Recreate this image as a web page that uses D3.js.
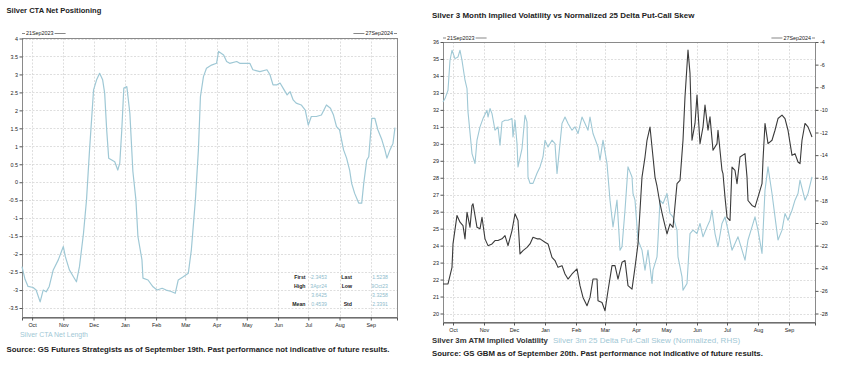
<!DOCTYPE html>
<html><head><meta charset="utf-8">
<script src="https://cdn.jsdelivr.net/npm/d3@7"></script>
<style>
body{margin:0;background:#fff}
svg{display:block}
text{font-family:"Liberation Sans",Arial,sans-serif}
</style>
</head><body>
<svg id="c" width="848" height="368"></svg>
<script>
// ---------------- DATA ----------------
const monthLabels = ["Oct","Nov","Dec","Jan","Feb","Mar","Apr","May","Jun","Jul","Aug","Sep"];
const monthStarts = ["2023-10-01","2023-11-01","2023-12-01","2024-01-01","2024-02-01","2024-03-01","2024-04-01","2024-05-01","2024-06-01","2024-07-01","2024-08-01","2024-09-01"];
const startDate = "2023-09-21";
const leftEndDate = "2024-09-27";
const rightEndDate = "2024-09-27";

const ctaDates = ["2023-09-21","2023-09-24","2023-09-27","2023-10-02","2023-10-05","2023-10-09","2023-10-12","2023-10-15","2023-10-18","2023-10-22","2023-10-27","2023-11-01","2023-11-03","2023-11-07","2023-11-11","2023-11-14","2023-11-17","2023-11-21","2023-11-24","2023-11-27","2023-12-01","2023-12-04","2023-12-07","2023-12-10","2023-12-12","2023-12-14","2023-12-16","2023-12-19","2023-12-22","2023-12-25","2023-12-27","2023-12-29","2023-12-31","2024-01-03","2024-01-06","2024-01-09","2024-01-12","2024-01-14","2024-01-18","2024-01-19","2024-01-24","2024-01-29","2024-02-02","2024-02-07","2024-02-11","2024-02-16","2024-02-20","2024-02-23","2024-02-28","2024-03-04","2024-03-07","2024-03-11","2024-03-14","2024-03-16","2024-03-19","2024-03-22","2024-03-27","2024-04-01","2024-04-03","2024-04-08","2024-04-11","2024-04-14","2024-04-21","2024-04-24","2024-04-29","2024-05-04","2024-05-07","2024-05-14","2024-05-21","2024-05-24","2024-05-27","2024-05-31","2024-06-03","2024-06-06","2024-06-10","2024-06-13","2024-06-16","2024-06-19","2024-06-24","2024-06-28","2024-07-01","2024-07-04","2024-07-09","2024-07-14","2024-07-19","2024-07-23","2024-07-26","2024-07-29","2024-08-01","2024-08-05","2024-08-08","2024-08-11","2024-08-13","2024-08-16","2024-08-20","2024-08-23","2024-08-25","2024-08-28","2024-08-30","2024-09-02","2024-09-05","2024-09-08","2024-09-12","2024-09-15","2024-09-17","2024-09-20","2024-09-23","2024-09-25"];
const ctaValues = [-2.35,-2.7,-2.9,-2.93,-3.0,-3.33,-3.0,-3.05,-2.9,-2.44,-2.16,-1.79,-2.07,-2.44,-2.63,-2.77,-2.35,-1.42,-0.49,0.9,2.57,2.85,3.03,2.85,2.48,1.46,0.67,0.62,0.57,0.34,0.53,1.46,2.62,2.66,1.92,0.3,-0.49,-1.51,-2.16,-2.67,-2.72,-2.91,-3.0,-2.95,-3.0,-3.04,-3.09,-2.72,-2.63,-2.53,-1.88,-0.49,0.9,2.38,2.94,3.17,3.26,3.31,3.64,3.54,3.36,3.31,3.36,3.31,3.31,3.31,3.13,3.08,3.13,2.99,2.71,2.71,2.76,2.62,2.43,2.52,2.29,2.2,2.15,2.01,1.59,1.83,1.83,1.87,2.15,2.06,1.87,1.55,1.46,0.9,0.67,0.34,-0.03,-0.31,-0.58,-0.58,-0.03,0.62,0.71,1.78,1.78,1.46,1.18,0.9,0.67,0.9,1.08,1.52];

const volDates = ["2023-09-21","2023-09-26","2023-09-30","2023-10-01","2023-10-05","2023-10-08","2023-10-11","2023-10-13","2023-10-15","2023-10-18","2023-10-20","2023-10-21","2023-10-25","2023-10-28","2023-10-30","2023-11-02","2023-11-05","2023-11-09","2023-11-12","2023-11-15","2023-11-19","2023-11-22","2023-11-25","2023-11-29","2023-12-02","2023-12-05","2023-12-07","2023-12-10","2023-12-14","2023-12-17","2023-12-20","2023-12-24","2023-12-27","2024-01-01","2024-01-04","2024-01-08","2024-01-11","2024-01-14","2024-01-18","2024-01-21","2024-01-24","2024-01-28","2024-02-02","2024-02-05","2024-02-08","2024-02-12","2024-02-15","2024-02-18","2024-02-22","2024-02-23","2024-02-27","2024-03-01","2024-03-04","2024-03-08","2024-03-11","2024-03-14","2024-03-18","2024-03-21","2024-03-24","2024-03-28","2024-03-31","2024-04-03","2024-04-07","2024-04-10","2024-04-12","2024-04-15","2024-04-18","2024-04-20","2024-04-22","2024-04-25","2024-04-28","2024-05-02","2024-05-05","2024-05-08","2024-05-12","2024-05-15","2024-05-17","2024-05-18","2024-05-20","2024-05-23","2024-05-25","2024-05-27","2024-05-30","2024-06-01","2024-06-04","2024-06-07","2024-06-09","2024-06-12","2024-06-14","2024-06-17","2024-06-21","2024-06-22","2024-06-26","2024-06-27","2024-06-29","2024-07-01","2024-07-04","2024-07-06","2024-07-09","2024-07-11","2024-07-14","2024-07-19","2024-07-21","2024-07-22","2024-07-26","2024-07-29","2024-08-01","2024-08-05","2024-08-06","2024-08-08","2024-08-11","2024-08-15","2024-08-18","2024-08-21","2024-08-25","2024-08-28","2024-08-31","2024-09-04","2024-09-07","2024-09-10","2024-09-12","2024-09-14","2024-09-17","2024-09-20","2024-09-24"];
const volValues = [21.74,21.74,22.72,24.1,25.78,25.38,25.18,24.4,25.97,25.08,26.37,26.47,25.08,24.99,25.67,24.4,24.0,24.1,24.3,24.3,24.4,24.59,24.0,24.89,25.88,25.48,23.51,23.71,23.9,24.1,24.49,24.4,24.4,24.2,24.1,23.31,23.12,22.72,22.82,22.33,22.03,22.33,22.63,21.64,20.95,20.46,20.95,22.03,22.03,20.75,20.65,20.16,21.34,22.82,22.82,22.03,23.02,23.12,21.64,21.44,22.72,24.1,28.04,29.22,30.21,30.99,29.22,28.04,27.5,26.47,25.67,24.69,25.28,25.08,27.65,27.84,29.42,30.21,32.77,35.53,34.15,30.21,31.2,32.87,30.01,30.99,32.28,30.8,31.59,29.62,30.01,30.8,28.43,28.24,26.86,25.67,25.48,28.63,28.43,27.65,29.22,29.42,28.04,26.66,26.37,26.27,26.86,27.65,29.03,31.2,30.01,30.21,30.8,31.49,31.69,31.49,30.8,29.32,29.42,28.93,28.83,30.21,31.2,31.0,30.4];

const skewDates = ["2023-09-21","2023-09-23","2023-09-26","2023-09-28","2023-09-30","2023-10-03","2023-10-06","2023-10-08","2023-10-10","2023-10-13","2023-10-15","2023-10-16","2023-10-20","2023-10-23","2023-10-25","2023-10-28","2023-10-31","2023-11-04","2023-11-05","2023-11-07","2023-11-09","2023-11-12","2023-11-15","2023-11-17","2023-11-19","2023-11-22","2023-11-25","2023-11-29","2023-11-30","2023-12-02","2023-12-04","2023-12-05","2023-12-09","2023-12-12","2023-12-14","2023-12-15","2023-12-17","2023-12-20","2023-12-24","2023-12-27","2023-12-30","2024-01-01","2024-01-04","2024-01-08","2024-01-11","2024-01-13","2024-01-18","2024-01-21","2024-01-24","2024-01-28","2024-01-31","2024-02-03","2024-02-07","2024-02-10","2024-02-13","2024-02-15","2024-02-18","2024-02-23","2024-02-25","2024-02-28","2024-03-03","2024-03-06","2024-03-09","2024-03-13","2024-03-14","2024-03-16","2024-03-18","2024-03-21","2024-03-24","2024-03-28","2024-03-29","2024-03-31","2024-04-03","2024-04-07","2024-04-10","2024-04-13","2024-04-17","2024-04-18","2024-04-22","2024-04-23","2024-04-25","2024-04-28","2024-05-02","2024-05-05","2024-05-08","2024-05-12","2024-05-13","2024-05-17","2024-05-18","2024-05-22","2024-05-25","2024-05-28","2024-06-01","2024-06-04","2024-06-07","2024-06-11","2024-06-14","2024-06-16","2024-06-19","2024-06-22","2024-06-26","2024-06-29","2024-07-02","2024-07-06","2024-07-09","2024-07-12","2024-07-16","2024-07-19","2024-07-22","2024-07-26","2024-07-29","2024-08-01","2024-08-05","2024-08-08","2024-08-11","2024-08-15","2024-08-18","2024-08-21","2024-08-25","2024-08-28","2024-08-31","2024-09-04","2024-09-07","2024-09-10","2024-09-12","2024-09-17","2024-09-20","2024-09-24"];
const skewValues = [-9.3,-9.0,-8.27,-5.62,-4.73,-5.47,-5.32,-4.73,-5.62,-7.38,-8.12,-10.18,-13.86,-14.74,-12.68,-11.5,-10.77,-10.03,-10.63,-9.88,-10.33,-11.8,-11.5,-13.12,-11.06,-10.92,-10.92,-10.77,-12.39,-10.92,-12.98,-15.04,-13.42,-10.47,-11.06,-15.93,-16.5,-16.5,-15.6,-15.04,-14.16,-12.68,-13.28,-12.68,-12.98,-15.63,-11.2,-10.63,-11.2,-11.8,-11.5,-12.09,-10.63,-11.2,-11.8,-10.63,-12.09,-13.28,-14.45,-12.68,-14.74,-17.98,-20.34,-17.98,-19.46,-22.4,-22.1,-18.87,-15.04,-15.93,-17.39,-17.98,-21.5,-22.4,-24.17,-22.4,-25.34,-24.17,-22.99,-21.5,-17.98,-18.28,-17.39,-19.16,-19.46,-20.63,-22.99,-24.76,-25.93,-25.34,-20.93,-20.63,-20.93,-20.04,-21.22,-20.34,-19.75,-18.87,-20.93,-22.1,-20.04,-19.46,-20.63,-22.4,-21.81,-21.22,-22.4,-23.28,-21.5,-20.34,-19.46,-20.63,-22.69,-17.1,-15.04,-17.39,-19.46,-21.5,-20.63,-19.16,-19.75,-18.87,-17.98,-17.39,-16.2,-17.98,-17.39,-15.93];

const ctaTicks = [4,3.5,3,2.5,2,1.5,1,0.5,0,-0.5,-1,-1.5,-2,-2.5,-3,-3.5];
const volTicks = [36,35,34,33,32,31,30,29,28,27,26,25,24,23,22,21,20];
const skewTicks = [-4,-6,-8,-10,-12,-14,-16,-18,-20,-22,-24,-26,-28];

const statLabelsA = ["First","High","","Mean"];
const statValuesA = ["-2.3453","3Apr24","3.6425","0.4539"];
const statLabelsB = ["Last","Low","","Std"];
const statValuesB = ["1.5238","9Oct23","-3.3258","2.3391"];

const leftTitle = "Silver CTA Net Positioning";
const rightTitle = "Silver 3 Month Implied Volatility vs Normalized 25 Delta Put-Call Skew";
const leftLegend = "Silver CTA Net Length";
const rightLegendA = "Silver 3m ATM Implied Volatility";
const rightLegendB = "Silver 3m 25 Delta Put-Call Skew (Normalized, RHS)";
const leftSource = "Source: GS Futures Strategists as of September 19th. Past performance not indicative of future results.";
const rightSource = "Source: GS GBM as of September 20th. Past performance not indicative of future results.";
const startLabel = "21Sep2023";
const endLabel = "27Sep2024";

// ---------------- STYLE ----------------
const C_LIGHT = "#9fc8d5";
const C_DARK = "#3a3a3a";
const C_TEXT = "#222";
const C_GRID = "#d6d6d6";
const C_BOX = "#8a8a8a";

const parse = d3.timeParse("%Y-%m-%d");
const svg = d3.select("#c");

function fit(t, w) {
  const n = t.node();
  const fs = parseFloat(t.attr("font-size"));
  const len = n.getComputedTextLength();
  if (len > 0) t.attr("font-size", (fs * w / len).toFixed(3));
  return t;
}
function txt(x, y, s, fs, opts = {}) {
  const t = svg.append("text").attr("x", x).attr("y", y).attr("font-size", fs)
    .attr("fill", opts.fill || C_TEXT).attr("font-weight", opts.bold ? "bold" : "normal")
    .attr("text-anchor", opts.anchor || "start").text(s);
  if (opts.width) fit(t, opts.width);
  return t;
}

function panel(cfg) {
  const {x0, x1, y0, y1, endDate} = cfg;
  const x = d3.scaleTime().domain([parse(startDate), parse(endDate)]).range([x0, x1]);
  const g = svg.append("g");
  // grid
  const yL = cfg.yLeft;
  g.append("g").selectAll("line").data(cfg.leftTicks).join("line")
    .attr("x1", x0).attr("x2", x1).attr("y1", d => Math.round(yL(d)) + 0.5).attr("y2", d => Math.round(yL(d)) + 0.5)
    .attr("stroke", C_GRID).attr("stroke-width", 0.8).attr("stroke-dasharray", "2,1.5");
  g.append("g").selectAll("line").data(monthStarts).join("line")
    .attr("x1", d => Math.round(x(parse(d))) + 0.5).attr("x2", d => Math.round(x(parse(d))) + 0.5)
    .attr("y1", y0).attr("y2", y1)
    .attr("stroke", C_GRID).attr("stroke-width", 0.8).attr("stroke-dasharray", "2,1.5");
  // box
  g.append("rect").attr("x", x0 + 0.5).attr("y", y0 + 0.5).attr("width", x1 - x0).attr("height", y1 - y0)
    .attr("fill", "none").attr("stroke", C_BOX).attr("stroke-width", 1);
  // left axis
  const ax = g.append("g").attr("transform", `translate(${x0 + 0.5},0)`)
    .call(d3.axisLeft(yL).tickValues(cfg.leftTicks).tickSize(3).tickPadding(1.5).tickFormat(d => String(d)));
  ax.select(".domain").remove();
  ax.selectAll("line").attr("stroke", "#555");
  ax.selectAll("text").attr("font-size", 5.4).attr("fill", C_TEXT).attr("font-family", '"Liberation Sans",Arial,sans-serif');
  if (cfg.yRight) {
    const ar = g.append("g").attr("transform", `translate(${x1 + 0.5},0)`)
      .call(d3.axisRight(cfg.yRight).tickValues(cfg.rightTicks).tickSize(3).tickPadding(1.5).tickFormat(d => String(d)));
    ar.select(".domain").remove();
    ar.selectAll("line").attr("stroke", "#555");
    ar.selectAll("text").attr("font-size", 5.4).attr("fill", C_TEXT).attr("font-family", '"Liberation Sans",Arial,sans-serif');
  }
  // bottom axis
  const ab = g.append("g").attr("transform", `translate(0,${y1 + 0.5})`)
    .call(d3.axisBottom(x).tickValues(monthStarts.map(parse)).tickSize(3).tickPadding(2.5)
      .tickFormat((d, i) => monthLabels[i]));
  ab.select(".domain").attr("stroke", "#555");
  ab.selectAll("line").attr("stroke", "#555");
  ab.selectAll("text").attr("font-size", 5.4).attr("fill", C_TEXT).attr("font-family", '"Liberation Sans",Arial,sans-serif');
  // date labels on top
  const ty = cfg.dateY;
  g.append("line").attr("x1", x0).attr("x2", x0 + 3).attr("y1", ty - 1.5).attr("y2", ty - 1.5).attr("stroke", "#555").attr("stroke-width", 0.7);
  const s1 = txt(x0 + 4, ty, startLabel, 5.4, {});
  const w1 = s1.node().getComputedTextLength();
  g.append("line").attr("x1", x0 + 5 + w1).attr("x2", x0 + 16 + w1).attr("y1", ty - 1.5).attr("y2", ty - 1.5).attr("stroke", "#555").attr("stroke-width", 0.7);
  const s2 = txt(x1 - 4, ty, endLabel, 5.4, {anchor: "end"});
  const w2 = s2.node().getComputedTextLength();
  g.append("line").attr("x1", x1 - 16 - w2).attr("x2", x1 - 5 - w2).attr("y1", ty - 1.5).attr("y2", ty - 1.5).attr("stroke", "#555").attr("stroke-width", 0.7);
  g.append("line").attr("x1", x1 - 3).attr("x2", x1).attr("y1", ty - 1.5).attr("y2", ty - 1.5).attr("stroke", "#555").attr("stroke-width", 0.7);
  return {x, g};
}

// ---------------- LEFT PANEL ----------------
const yCta = d3.scaleLinear().domain([-3.75, 4]).range([317, 38.5]);
const L = panel({x0: 22, x1: 397, y0: 38, y1: 317, endDate: leftEndDate, yLeft: yCta, leftTicks: ctaTicks, dateY: 35});
const ctaData = ctaDates.map((d, i) => ({d: parse(d), v: ctaValues[i]}));
L.g.append("path").datum(ctaData)
  .attr("d", d3.line().x(p => L.x(p.d)).y(p => yCta(p.v)))
  .attr("fill", "none").attr("stroke", C_LIGHT).attr("stroke-width", 1.2).attr("stroke-linejoin", "round");

// stats box
const rowsY = [278.5, 287.5, 296.5, 305.5];
rowsY.forEach((yy, i) => {
  if (statLabelsA[i]) txt(305.5, yy, statLabelsA[i], 5.2, {anchor: "end", bold: true});
  txt(327, yy, statValuesA[i], 5.2, {anchor: "end", fill: "#8fbccc"});
  if (statLabelsB[i]) txt(352, yy, statLabelsB[i], 5.2, {anchor: "end", bold: true});
  txt(388, yy, statValuesB[i], 5.2, {anchor: "end", fill: "#8fbccc"});
});

// ---------------- RIGHT PANEL ----------------
const yVol = d3.scaleLinear().domain([19.5, 36]).range([322, 42]);
const ySkew = d3.scaleLinear().domain([-28.75, -4]).range([322, 42]);
const R = panel({x0: 443, x1: 815, y0: 42, y1: 322, endDate: rightEndDate, yLeft: yVol, leftTicks: volTicks, yRight: ySkew, rightTicks: skewTicks, dateY: 39.5});
const skewData = skewDates.map((d, i) => ({d: parse(d), v: skewValues[i]}));
const volData = volDates.map((d, i) => ({d: parse(d), v: volValues[i]}));
R.g.append("path").datum(skewData)
  .attr("d", d3.line().x(p => R.x(p.d)).y(p => ySkew(p.v)))
  .attr("fill", "none").attr("stroke", C_LIGHT).attr("stroke-width", 1.1).attr("stroke-linejoin", "round");
R.g.append("path").datum(volData)
  .attr("d", d3.line().x(p => R.x(p.d)).y(p => yVol(p.v)))
  .attr("fill", "none").attr("stroke", C_DARK).attr("stroke-width", 1.1).attr("stroke-linejoin", "round");

// ---------------- TEXTS ----------------
txt(6.5, 13, leftTitle, 6.5, {bold: true, width: 95});
txt(432, 17.5, rightTitle, 6.5, {bold: true, width: 263});
txt(20, 337, leftLegend, 5.4, {fill: C_LIGHT, width: 68});
txt(432, 343, rightLegendA, 5.4, {fill: "#333", bold: true, width: 116});
txt(553, 343, rightLegendB, 5.4, {fill: C_LIGHT, width: 187});
txt(6.5, 352, leftSource, 6.3, {bold: true, width: 383});
txt(432, 356, rightSource, 6.3, {bold: true, width: 331});
</script>
</body></html>
